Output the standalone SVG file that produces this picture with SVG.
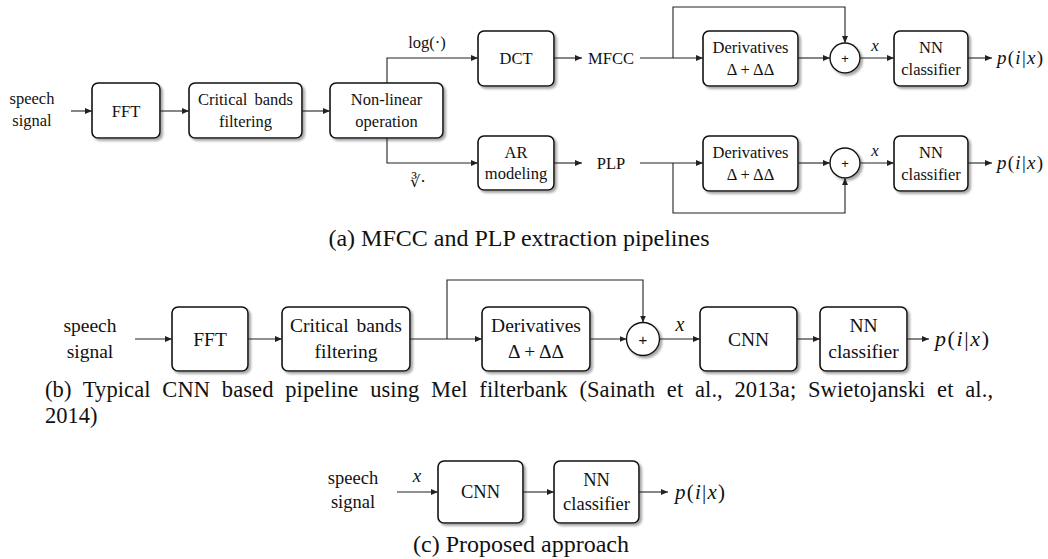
<svg xmlns="http://www.w3.org/2000/svg" width="1048" height="559" viewBox="0 0 1048 559">
<style>
text{font-family:"Liberation Serif","Times New Roman",serif;fill:#111;}
.a{font-size:16.5px;text-anchor:middle;}
.b{font-size:19.5px;text-anchor:middle;}
.c{font-size:18.5px;text-anchor:middle;}
.cap{font-size:24px;}
.box{fill:#fff;stroke:#111;stroke-width:1.6;filter:url(#sh);}
.sum{fill:#fff;stroke:#111;stroke-width:1.4;filter:url(#sh);}
.ln{fill:none;stroke:#222;stroke-width:1.1;}
.ar{fill:none;stroke:#222;stroke-width:1.1;marker-end:url(#ah);}
.it{font-style:italic;}
</style>
<defs>
<filter id="sh" x="-20%" y="-20%" width="150%" height="150%">
<feDropShadow dx="2.2" dy="2.2" stdDeviation="1" flood-color="#888" flood-opacity="0.75"/>
</filter>
<marker id="ah" markerUnits="userSpaceOnUse" markerWidth="8" markerHeight="6" refX="7" refY="3" orient="auto">
<path d="M0,0 L7,3 L0,6 z" fill="#222"/>
</marker>
</defs>

<!-- (a) -->
<g id="a-speech"><text class="a" x="32" y="104">speech</text><text class="a" x="32" y="126">signal</text></g>
<g id="a-fft"><rect class="box" x="92" y="83" width="68" height="55" rx="6"/><text class="a" x="126" y="117">FFT</text></g>
<g id="a-crit"><rect class="box" x="189" y="83" width="113" height="55" rx="6"/><text class="a" x="245.5" y="105" word-spacing="3">Critical bands</text><text class="a" x="245.5" y="127">filtering</text></g>
<g id="a-nonlin"><rect class="box" x="330" y="83" width="113" height="55" rx="6"/><text class="a" x="386.5" y="105">Non-linear</text><text class="a" x="386.5" y="127">operation</text></g>
<g id="a-dct"><rect class="box" x="478" y="31" width="76" height="55" rx="6"/><text class="a" x="516" y="64">DCT</text></g>
<g id="a-ar"><rect class="box" x="478" y="136" width="76" height="54" rx="6"/><text class="a" x="516" y="158">AR</text><text class="a" x="516" y="179">modeling</text></g>
<g id="a-mfcc"><text class="a" x="611" y="64">MFCC</text></g>
<g id="a-plp"><text class="a" x="611" y="169">PLP</text></g>
<g id="a-der1"><rect class="box" x="703" y="31" width="95" height="55" rx="6"/><text class="a" x="750.5" y="53">Derivatives</text><text class="a" x="750.5" y="75">Δ + ΔΔ</text></g>
<g id="a-der2"><rect class="box" x="703" y="136" width="95" height="55" rx="6"/><text class="a" x="750.5" y="158">Derivatives</text><text class="a" x="750.5" y="180">Δ + ΔΔ</text></g>
<g id="a-sum1"><circle class="sum" cx="845" cy="58" r="15"/><text x="845" y="63" style="font-family:'Liberation Sans',sans-serif;font-size:13px;text-anchor:middle">+</text></g>
<g id="a-sum2"><circle class="sum" cx="845" cy="163" r="15"/><text x="845" y="168" style="font-family:'Liberation Sans',sans-serif;font-size:13px;text-anchor:middle">+</text></g>
<g id="a-nn1"><rect class="box" x="894" y="31" width="74" height="55" rx="6"/><text class="a" x="931" y="53">NN</text><text class="a" x="931" y="75">classifier</text></g>
<g id="a-nn2"><rect class="box" x="894" y="136" width="74" height="55" rx="6"/><text class="a" x="931" y="158">NN</text><text class="a" x="931" y="180">classifier</text></g>
<g id="a-out1"><text x="997" y="64" style="font-size:19px" textLength="46"><tspan class="it">p</tspan>(<tspan class="it">i</tspan>|<tspan class="it">x</tspan>)</text></g>
<g id="a-out2"><text x="997" y="169" style="font-size:19px" textLength="46"><tspan class="it">p</tspan>(<tspan class="it">i</tspan>|<tspan class="it">x</tspan>)</text></g>
<g id="a-labels">
<text class="a" x="427" y="48">log(·)</text>
<text x="418" y="187" style="font-family:'DejaVu Serif',serif;font-size:16px;text-anchor:middle">∛·</text>
<text class="a it" x="875" y="51" style="font-size:17px">x</text>
<text class="a it" x="875" y="156" style="font-size:17px">x</text>
</g>

<!-- (b) -->
<g id="b-speech"><text class="b" x="90" y="332">speech</text><text class="b" x="90" y="358">signal</text></g>
<g id="b-fft"><rect class="box" x="172" y="307" width="76" height="64" rx="6"/><text class="b" x="210" y="346">FFT</text></g>
<g id="b-crit"><rect class="box" x="282" y="307" width="128" height="64" rx="6"/><text class="b" x="346" y="332" word-spacing="3">Critical bands</text><text class="b" x="346" y="358">filtering</text></g>
<g id="b-der"><rect class="box" x="482" y="307" width="108" height="64" rx="6"/><text class="b" x="536" y="332">Derivatives</text><text class="b" x="536" y="358">Δ + ΔΔ</text></g>
<g id="b-sum"><circle class="sum" cx="643" cy="339" r="16.5"/><text x="643" y="345" style="font-family:'Liberation Sans',sans-serif;font-size:15px;text-anchor:middle">+</text></g>
<g id="b-cnn"><rect class="box" x="700" y="307" width="97" height="64" rx="6"/><text class="b" x="748.5" y="346">CNN</text></g>
<g id="b-nn"><rect class="box" x="820" y="307" width="87" height="64" rx="6"/><text class="b" x="863.5" y="332">NN</text><text class="b" x="863.5" y="358">classifier</text></g>
<g id="b-out"><text x="935" y="346" style="font-size:22px" textLength="54"><tspan class="it">p</tspan>(<tspan class="it">i</tspan>|<tspan class="it">x</tspan>)</text></g>
<g id="b-labels"><text class="b it" x="680" y="331" style="font-size:20px">x</text></g>

<!-- (c) -->
<g id="c-speech"><text class="c" x="353" y="484">speech</text><text class="c" x="353" y="508">signal</text></g>
<g id="c-cnn"><rect class="box" x="438" y="461" width="85" height="62" rx="6"/><text class="c" x="480.5" y="498">CNN</text></g>
<g id="c-nn"><rect class="box" x="554" y="461" width="85" height="62" rx="6"/><text class="c" x="596.5" y="486">NN</text><text class="c" x="596.5" y="510">classifier</text></g>
<g id="c-out"><text x="675" y="499" style="font-size:21px" textLength="50"><tspan class="it">p</tspan>(<tspan class="it">i</tspan>|<tspan class="it">x</tspan>)</text></g>
<g id="c-labels"><text class="c it" x="417" y="482" style="font-size:19px">x</text></g>

<!-- connectors -->
<g id="connectors">
<line class="ar" x1="71" y1="111" x2="92" y2="111"/>
<line class="ar" x1="160" y1="111" x2="189" y2="111"/>
<line class="ar" x1="302" y1="111" x2="330" y2="111"/>
<polyline class="ar" points="387,83 387,58 478,58"/>
<polyline class="ar" points="387,138 387,163 478,163"/>
<line class="ar" x1="554" y1="58" x2="582" y2="58"/>
<line class="ar" x1="554" y1="163" x2="582" y2="163"/>
<line class="ar" x1="640" y1="58" x2="703" y2="58"/>
<polyline class="ar" points="673,58 673,7 845,7 845,43"/>
<line class="ar" x1="798" y1="58" x2="830" y2="58"/>
<line class="ar" x1="860" y1="58" x2="894" y2="58"/>
<line class="ar" x1="968" y1="58" x2="992" y2="58"/>
<line class="ar" x1="640" y1="163" x2="703" y2="163"/>
<polyline class="ar" points="673,163 673,213 845,213 845,178"/>
<line class="ar" x1="798" y1="163" x2="830" y2="163"/>
<line class="ar" x1="860" y1="163" x2="894" y2="163"/>
<line class="ar" x1="968" y1="163" x2="992" y2="163"/>

<line class="ar" x1="135" y1="339" x2="172" y2="339"/>
<line class="ar" x1="248" y1="339" x2="282" y2="339"/>
<line class="ar" x1="410" y1="339" x2="482" y2="339"/>
<polyline class="ar" points="447,339 447,280 643,280 643,322.5"/>
<line class="ar" x1="590" y1="339" x2="626.5" y2="339"/>
<line class="ar" x1="659.5" y1="339" x2="700" y2="339"/>
<line class="ar" x1="797" y1="339" x2="820" y2="339"/>
<line class="ar" x1="907" y1="339" x2="929" y2="339"/>

<line class="ar" x1="397" y1="492" x2="438" y2="492"/>
<line class="ar" x1="523" y1="492" x2="554" y2="492"/>
<line class="ar" x1="639" y1="492" x2="668" y2="492"/>
</g>

<!-- captions -->
<g id="captions">
<text class="cap" x="519" y="246" text-anchor="middle">(a) MFCC and PLP extraction pipelines</text>
<text class="cap" x="45" y="397" style="font-size:22.5px" textLength="948" lengthAdjust="spacing" word-spacing="6">(b) Typical CNN based pipeline using Mel filterbank (Sainath et al., 2013a; Swietojanski et al.,</text>
<text class="cap" x="45" y="423" style="font-size:22.5px">2014)</text>
<text class="cap" x="521" y="552" text-anchor="middle">(c) Proposed approach</text>
</g>
</svg>
